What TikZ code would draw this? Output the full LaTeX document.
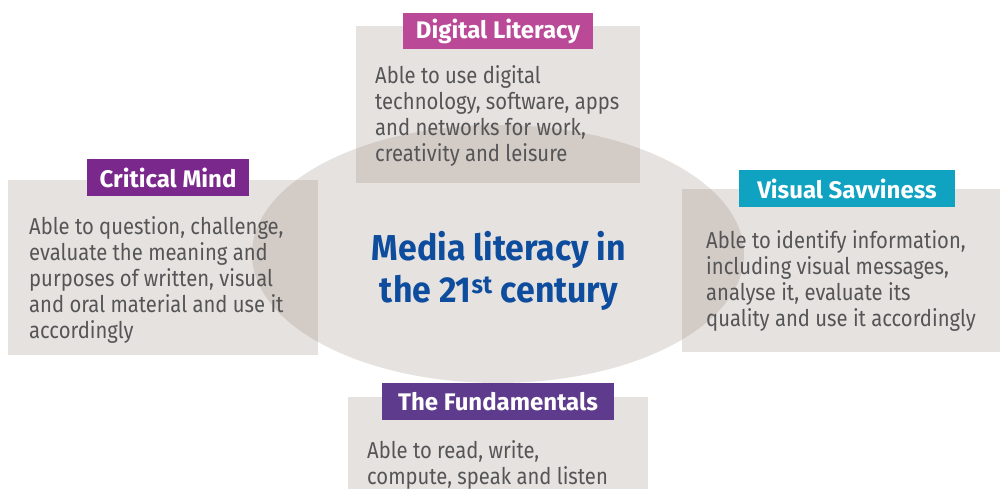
\documentclass[tikz,border=0pt]{standalone}
\usepackage{fontspec}
\setmainfont{Fira Sans}[FakeStretch=0.88]
\newfontfamily\tagfont{Fira Sans}[FakeStretch=1.0]
\newfontfamily\midfont{Fira Sans}[FakeStretch=0.94]
\usetikzlibrary{shapes.geometric}
\definecolor{dlcol}{RGB}{186,73,151}
\definecolor{cmcol}{RGB}{122,40,140}
\definecolor{vscol}{RGB}{16,162,193}
\definecolor{fdcol}{RGB}{94,59,140}
\definecolor{midblue}{RGB}{14,76,158}
\definecolor{bodygray}{RGB}{85,85,87}
\definecolor{tint}{RGB}{141,123,110}
\tikzset{
  panel/.style={rectangle, fill=tint, fill opacity=0.22, inner sep=0pt, outer sep=0pt},
  tag/.style={rectangle, inner sep=0pt, text=white,
    font=\tagfont\fontsize{24}{26}\selectfont\bfseries},
  body/.style={anchor=north west, inner sep=0pt, align=left, text=bodygray,
    font=\fontsize{23}{26}\selectfont},
}
\begin{document}
\begin{tikzpicture}[x=1pt, y=-1pt]
\useasboundingbox (0,0) rectangle (1000,489);
% central ellipse
\node[panel, ellipse, minimum width=492pt, minimum height=258pt] (core) at (498,254) {};
% four translucent panels
\node[panel, minimum width=284pt, minimum height=157pt] (dlbox) at (498,104.5) {};
\node[panel, minimum width=310pt, minimum height=175pt] (cmbox) at (163,267.5) {};
\node[panel, minimum width=318pt, minimum height=163pt] (vsbox) at (841,270.5) {};
\node[panel, minimum width=300pt, minimum height=92pt] (fdbox) at (498,443) {};
% heading tags
\node[tag, fill=dlcol, minimum width=190pt, minimum height=36pt] (dltag) at (498,31) {Digital Literacy};
\node[tag, fill=cmcol, minimum width=162pt, minimum height=37pt] (cmtag) at (168,177.5) {Critical Mind};
\node[tag, fill=vscol, minimum width=216pt, minimum height=37pt] (vstag) at (847,188.5) {Visual Savviness};
\node[tag, fill=fdcol, minimum width=232pt, minimum height=37pt] (fdtag) at (498,401.5) {The Fundamentals};
% descriptions
\node[body] (dltext) at (375,65) {Able to use digital\\technology, software, apps\\and networks for work,\\creativity and leisure};
\node[body] (cmtext) at (29,216) {Able to question, challenge,\\evaluate the meaning and\\purposes of written, visual\\and oral material and use it\\accordingly};
\node[body] (vstext) at (706,230) {Able to identify information,\\including visual messages,\\analyse it, evaluate its\\quality and use it accordingly};
\node[body] (fdtext) at (367,440) {Able to read, write,\\compute, speak and listen};
% centre title
\node[align=center, text=midblue, inner sep=0pt, font=\midfont\fontsize{36}{42}\selectfont\bfseries] (title) at (499,271)
  {Media literacy in\\the 21\textsuperscript{st} century};
\end{tikzpicture}
\end{document}
